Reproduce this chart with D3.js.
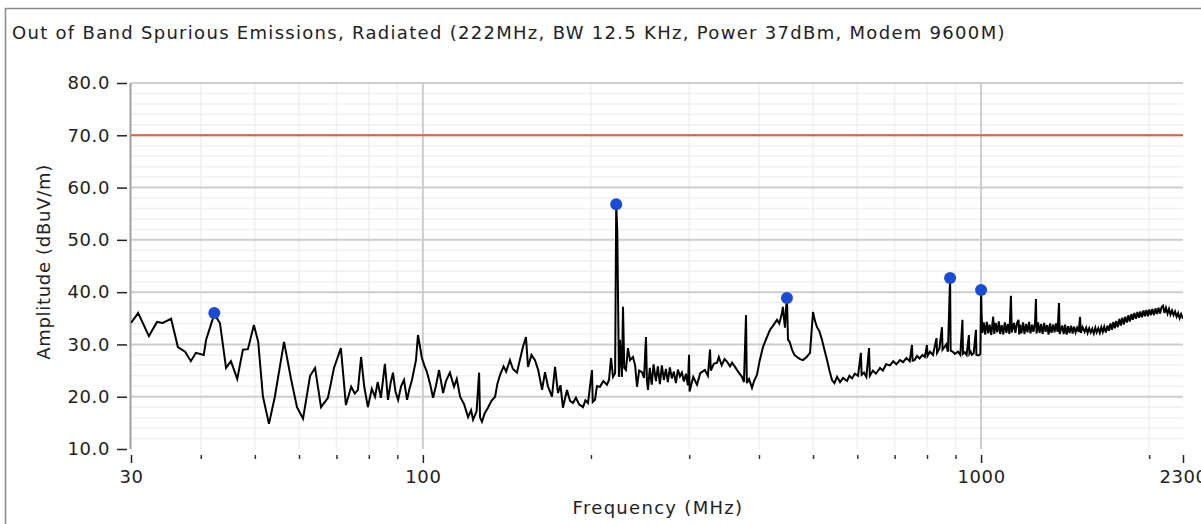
<!DOCTYPE html>
<html>
<head>
<meta charset="utf-8">
<script src="https://cdn.jsdelivr.net/npm/d3@7"></script>
<style>
  body { margin: 0; background: #fff; }
  text { font-family: "DejaVu Sans", Verdana, sans-serif; fill: #222; }
</style>
</head>
<body>
<script>
var chartTitle = "Out of Band Spurious Emissions, Radiated (222MHz, BW 12.5 KHz, Power 37dBm, Modem 9600M)"
var xTitle = "Frequency (MHz)"
var yTitle = "Amplitude (dBuV/m)"

var yTicks = [10, 20, 30, 40, 50, 60, 70, 80]
var yMinor = [12, 14, 16, 18, 22, 24, 26, 28, 32, 34, 36, 38, 42, 44, 46, 48, 52, 54, 56, 58, 62, 64, 66, 68, 72, 74, 76, 78]
var xLabelTicks = [30, 100, 1000, 2300]
var xMinorTicks = [40, 50, 60, 70, 80, 90, 200, 300, 400, 500, 600, 700, 800, 900, 2000]
var xGridMajor = [100, 1000]
var limitLevel = 70

// measured peaks (blue markers)
var peaks = [[42.3, 36.0], [222, 56.8], [449, 38.9], [880, 42.7], [1000, 40.4]]

// trace [MHz, dBuV/m]
var trace30to100 = [
  [30, 34.1], [30.9, 36.0], [32.3, 31.6], [33.4, 34.3], [34.2, 34.1], [35.4, 34.9], [36.4, 29.5],
  [37.5, 28.6], [38.4, 26.8], [39.2, 28.4], [40.5, 28.0], [40.9, 30.9], [42.3, 35.8], [43.3, 34.1],
  [44.4, 25.5], [45.3, 26.8], [46.5, 23.4], [47.6, 29.0], [48.6, 29.1], [49.8, 33.7], [50.7, 30.5],
  [51.7, 20.0], [53.0, 14.8], [54.3, 20.0], [56.4, 30.5], [58.1, 23.2], [59.5, 18.0], [61.0, 15.8],
  [62.8, 24.0], [64.1, 25.5], [65.7, 18.0], [67.6, 19.8], [69.3, 25.5], [71.3, 29.3], [72.8, 18.4],
  [74.4, 21.9], [75.5, 20.6], [76.5, 21.3], [77.5, 27.6], [78.5, 22.0], [79.7, 18.0], [81, 21.5],
  [82.1, 20.0], [83, 22.8], [84.1, 19.8], [85.5, 26.3], [86.6, 19.4], [87.5, 22.5], [88.4, 24.6],
  [89.3, 21.0], [90.3, 19.4], [91.4, 22.0], [92.5, 23.2], [93.7, 19.4], [94.6, 21.5], [95.6, 23.2],
  [97.2, 27.0], [98.0, 31.8], [99.6, 27.4], [100.6, 26.0]
]
var trace100to300 = [
  [101.7, 24.7], [103, 22.5], [104.3, 19.8], [105.5, 22.0], [106.9, 25.1], [108.7, 20.7], [110, 23.0],
  [111.8, 24.6], [113.7, 21.9], [115, 23.4], [116.6, 20.0], [118.5, 18.6], [120.5, 16.1], [122, 17.4],
  [123.0, 15.6], [124.8, 17.2], [126.1, 24.6], [126.6, 16.0], [127.6, 15.2], [129, 16.8], [130.8, 17.9],
  [132.7, 19.2], [134.7, 20.0], [136, 22.5], [137.5, 24.2], [139.5, 25.8], [141, 24.8], [143.2, 27.0],
  [145, 25.3], [147.4, 24.6], [149, 26.8], [151.1, 29.5], [153.0, 31.4], [154.3, 25.7], [156.5, 28.0],
  [158.8, 27.0], [161, 25.0], [163.5, 21.3], [165.5, 24.7], [167.5, 22.0], [170.3, 20.0], [172.5, 25.7],
  [174.6, 20.7], [176.4, 22.2], [178.2, 17.9], [181.2, 21.3], [183.5, 19.2], [185.7, 18.8], [188, 19.8],
  [190.6, 18.5], [193.6, 18.0], [195.5, 19.3], [197.6, 18.8], [200.9, 25.1], [201.5, 19.0], [203.4, 19.4],
  [205, 22.0], [207.6, 21.9], [210.5, 23.0], [213.7, 22.3], [215.5, 23.2], [217.3, 27.4], [219.1, 23.8],
  [221, 24.5], [222, 56.8], [223, 51.5], [224.5, 23.8], [225.5, 30.9], [227.3, 23.8], [228.3, 37.2],
  [229.5, 25.5], [231.1, 25.1], [233.0, 29.3], [235, 27.0], [237.9, 27.6], [240, 26.0], [241.9, 21.9],
  [244, 25.0], [246.9, 24.7], [249, 23.6], [251.0, 31.4], [252, 23.0], [253.1, 21.3], [255, 25.5],
  [257, 22.3], [259, 26.2], [261.5, 23.0], [263.6, 25.8], [265.8, 22.4], [268, 26.0], [270.2, 23.2],
  [272.5, 25.3], [274.7, 22.8], [277, 25.6], [279.3, 23.5], [281.6, 24.8], [284, 22.6], [286.3, 25.2],
  [288.7, 23.9], [291.1, 24.6], [293.5, 22.9], [295.9, 24.4], [298.4, 22.2], [299.8, 28.0]
]
var trace300to1000 = [
  [300.5, 21.0], [305, 23.8], [309.8, 22.3], [314, 24.5], [320, 25.1], [324, 24.0], [326.9, 29.0],
  [328, 25.0], [332, 26.3], [336.5, 26.5], [339, 27.6], [343, 26.0], [347, 27.2], [350.6, 26.7],
  [355, 25.8], [358, 26.5], [362.4, 25.7], [367, 24.8], [373, 23.8], [376, 22.8], [379.2, 35.6],
  [380.5, 22.6], [384, 23.4], [388.7, 21.7], [392, 23.0], [396.8, 24.2], [401, 26.8], [406.7, 29.5],
  [412, 31.0], [418.7, 32.8], [424, 33.6], [430.9, 34.7], [435, 34.0], [439.9, 36.0], [441.5, 37.2],
  [443, 35.5], [445.3, 33.2], [447, 36.5], [449, 38.9], [450.9, 30.9], [454, 30.5], [458.4, 29.0],
  [463, 28.0], [468, 27.6], [474, 27.2], [479.7, 27.0], [487, 27.6], [493.8, 28.4], [499.9, 36.2],
  [504, 34.5], [508.2, 33.3], [513, 32.6], [518.8, 30.9], [524, 29.0], [529.7, 27.0], [535, 25.0],
  [540.7, 23.2], [546, 22.6], [552, 23.8], [558.9, 22.8], [566, 23.6], [575.2, 23.0], [581, 24.0],
  [587.3, 23.5], [594, 24.4], [602, 24.0], [609, 28.4], [611, 24.2], [617, 24.6], [623, 23.8],
  [629.9, 29.3], [632, 24.0], [640, 25.0], [648, 24.4], [659, 25.5], [667, 25.0], [676, 26.2],
  [686.8, 26.0], [696, 26.8], [705, 26.2], [715.7, 27.0], [725, 26.6], [735, 27.4], [745, 26.8],
  [752, 29.9], [754, 26.9], [760, 27.0], [767.8, 27.8], [776, 27.3], [785, 28.0], [793, 27.6],
  [800, 29.9], [802, 27.8], [810, 28.6], [820, 28.0], [832, 31.2], [834, 28.4], [842, 29.2],
  [851, 33.3], [853, 29.0], [861, 29.6], [866, 30.0], [872, 28.6], [880, 42.7], [882, 28.8],
  [890, 28.6], [898, 28.2], [909, 28.6], [918, 28.0], [926, 34.7], [928, 28.2], [935, 28.5],
  [942, 28.0], [951, 31.8], [953, 28.2], [958, 28.6], [963, 28.0], [970, 28.3], [979, 32.8],
  [981, 28.0], [991, 27.9], [997, 28.2], [1000, 40.4]
]
var trace1000to2300 = [
  [1002, 36.2], [1005, 32.2], [1011, 34.2], [1017, 31.9], [1024, 34.3], [1030, 32.1], [1036, 33.8],
  [1043, 31.8], [1051, 35.3], [1056, 32.0], [1062, 34.1], [1069, 32.3], [1076, 34.4], [1082, 32.0],
  [1089, 33.7], [1096, 31.9], [1103, 34.2], [1110, 32.2], [1117, 33.9], [1124, 32.0], [1131, 39.3],
  [1135, 32.3], [1145, 34.1], [1152, 32.2], [1159, 34.0], [1167, 34.7], [1170, 31.9], [1174, 33.8],
  [1181, 32.1], [1189, 34.2], [1196, 32.0], [1204, 33.9], [1211, 32.3], [1219, 34.3], [1226, 32.1],
  [1234, 33.8], [1241, 32.4], [1249, 34.0], [1254, 38.7], [1257, 32.1], [1265, 34.2], [1273, 32.2],
  [1281, 33.9], [1289, 32.0], [1297, 34.1], [1305, 32.4], [1313, 33.7], [1321, 31.9], [1329, 34.0],
  [1337, 32.2], [1346, 33.8], [1354, 32.3], [1362, 34.0], [1371, 32.4], [1379, 37.9], [1383, 32.0],
  [1397, 33.6], [1406, 32.0], [1414, 33.8], [1423, 31.9], [1432, 33.5], [1441, 32.2], [1450, 33.6],
  [1459, 32.1], [1468, 33.4], [1477, 32.3], [1486, 33.2], [1496, 32.4], [1504, 35.3], [1509, 32.2],
  [1520, 33.3], [1533, 32.4], [1543, 33.2], [1552, 32.2], [1562, 33.1], [1572, 32.3], [1582, 33.0],
  [1592, 32.1], [1602, 33.2], [1611, 32.3], [1622, 33.1], [1632, 32.2], [1642, 33.3], [1652, 32.4],
  [1662, 33.4], [1673, 32.3], [1684, 33.6], [1694, 32.6], [1705, 34.0], [1715, 32.8], [1726, 34.3],
  [1736, 33.1], [1747, 34.5], [1758, 33.3], [1769, 34.9], [1780, 33.6], [1791, 35.1], [1802, 33.8],
  [1813, 35.3], [1825, 34.2], [1836, 35.6], [1847, 34.4], [1859, 35.8], [1870, 34.7], [1882, 36.0],
  [1894, 34.9], [1906, 36.2], [1918, 35.1], [1930, 36.3], [1942, 35.2], [1954, 36.5], [1966, 35.4],
  [1978, 36.6], [1990, 35.4], [2002, 36.7], [2015, 35.6], [2027, 36.8], [2040, 35.6], [2053, 36.9],
  [2066, 35.8], [2079, 37.0], [2092, 35.9], [2105, 37.1], [2118, 37.4], [2131, 36.0], [2144, 37.0],
  [2158, 35.9], [2171, 36.8], [2184, 35.7], [2198, 36.5], [2212, 35.6], [2226, 36.3], [2240, 35.3],
  [2254, 36.0], [2268, 35.0], [2282, 35.8], [2300, 34.9]
]

var width = 1201
var height = 524
var plot = {left: 131, right: 1183, top: 83, bottom: 449}

var svg = d3.select("body").append("svg")
    .attr("width", width)
    .attr("height", height)

// outer frame
svg.append("rect")
    .attr("x", 5.5).attr("y", 8.5)
    .attr("width", 1300).attr("height", 600)
    .attr("fill", "#fff")
    .attr("stroke", "#8a8a8a")
    .attr("stroke-width", 1.5)

svg.append("text")
    .attr("x", 12).attr("y", 39)
    .style("font-size", "18px")
    .style("letter-spacing", "1.3px")
    .text(chartTitle)

var x = d3.scaleLog().domain([30, 2300]).range([plot.left, plot.right])
var y = d3.scaleLinear().domain([10, 80]).range([plot.bottom, plot.top])

var grid = svg.append("g")

grid.selectAll(".hmin").data(yMinor).enter().append("line")
    .attr("x1", plot.left).attr("x2", plot.right)
    .attr("y1", d => y(d)).attr("y2", d => y(d))
    .attr("stroke", "#f0f0f0").attr("stroke-width", 1.5)

grid.selectAll(".vmin").data(xMinorTicks).enter().append("line")
    .attr("x1", d => x(d)).attr("x2", d => x(d))
    .attr("y1", plot.top).attr("y2", plot.bottom)
    .attr("stroke", "#f0f0f0").attr("stroke-width", 1.5)

grid.selectAll(".hmaj").data(yTicks.filter(d => d > 10)).enter().append("line")
    .attr("x1", plot.left).attr("x2", plot.right)
    .attr("y1", d => y(d)).attr("y2", d => y(d))
    .attr("stroke", "#cdcdcd").attr("stroke-width", 2)

grid.selectAll(".vmaj").data(xGridMajor).enter().append("line")
    .attr("x1", d => x(d)).attr("x2", d => x(d))
    .attr("y1", plot.top).attr("y2", plot.bottom)
    .attr("stroke", "#cdcdcd").attr("stroke-width", 2)

// y axis
svg.append("line")
    .attr("x1", plot.left - 0.5).attr("x2", plot.left - 0.5)
    .attr("y1", plot.top).attr("y2", plot.bottom)
    .attr("stroke", "#a0a0a0").attr("stroke-width", 2)

var yAxis = svg.append("g")
    .attr("transform", "translate(127,0)")
    .call(d3.axisLeft(y).tickValues(yTicks).tickFormat(d3.format(".1f")).tickSize(10).tickPadding(7))
yAxis.select(".domain").remove()
yAxis.selectAll(".tick line").attr("stroke", "#222").attr("stroke-width", 1.5)
yAxis.selectAll("text").style("font-size", "18px").style("letter-spacing", "0.6px").attr("fill", "#222")

// x axis
var xAxis = svg.append("g")
    .attr("transform", "translate(0,455)")
    .call(d3.axisBottom(x).tickValues(xLabelTicks).tickFormat(d3.format("d")).tickSize(8).tickPadding(7))
xAxis.select(".domain").remove()
xAxis.selectAll(".tick line").attr("stroke", "#222").attr("stroke-width", 1.5)
xAxis.selectAll("text").style("font-size", "18px").style("letter-spacing", "0.6px").attr("fill", "#222")

var xMinorAxis = svg.append("g")
    .attr("transform", "translate(0,455)")
    .call(d3.axisBottom(x).tickValues(xMinorTicks).tickFormat("").tickSize(4))
xMinorAxis.select(".domain").remove()
xMinorAxis.selectAll(".tick line").attr("stroke", "#333").attr("stroke-width", 1.5)

svg.append("text")
    .attr("transform", "translate(50,262) rotate(-90)")
    .attr("text-anchor", "middle")
    .style("font-size", "18px")
    .style("letter-spacing", "0.7px")
    .text(yTitle)

svg.append("text")
    .attr("x", 658).attr("y", 514)
    .attr("text-anchor", "middle")
    .style("font-size", "18px")
    .style("letter-spacing", "1.3px")
    .text(xTitle)

// data
svg.append("clipPath").attr("id", "clip")
    .append("rect")
    .attr("x", plot.left).attr("y", plot.top)
    .attr("width", plot.right - plot.left).attr("height", plot.bottom - plot.top)

var body = svg.append("g").attr("clip-path", "url(#clip)")

body.append("line")
    .attr("x1", plot.left).attr("x2", plot.right)
    .attr("y1", y(limitLevel)).attr("y2", y(limitLevel))
    .attr("stroke", "#ec5b3f").attr("stroke-width", 2)

var trace = trace30to100.concat(trace100to300, trace300to1000, trace1000to2300)

body.append("path")
    .datum(trace)
    .attr("fill", "none")
    .attr("stroke", "#000")
    .attr("stroke-width", 2)
    .attr("d", d3.line()
        .x(d => x(d[0]))
        .y(d => y(d[1])))

body.selectAll(".peak").data(peaks).enter().append("circle")
    .attr("cx", d => x(d[0]))
    .attr("cy", d => y(d[1]))
    .attr("r", 6)
    .attr("fill", "#1a4bd6")
</script>
</body>
</html>
